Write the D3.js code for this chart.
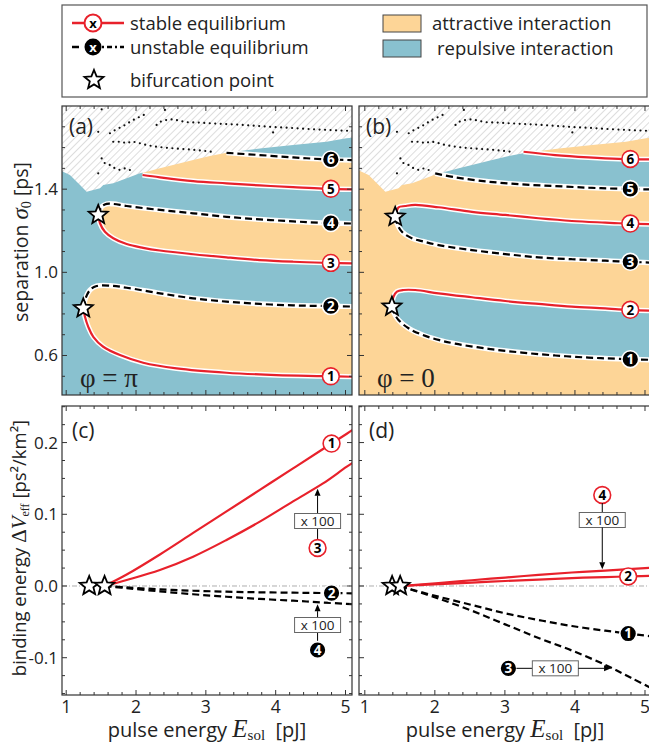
<!DOCTYPE html>
<html><head><meta charset="utf-8">
<script src="https://cdn.jsdelivr.net/npm/d3@7"></script>
<style>body{margin:0;background:#fff;} svg{display:block;}</style>
</head><body><svg id="c" width="649" height="746"></svg>
<script>
// ---------------- DATA ----------------
const xTickLabels = [1, 2, 3, 4, 5];
const sepTickLabels = [0.6, 1.0, 1.4];
const bindTickLabels = [-0.1, 0.0, 0.1, 0.2];

// limit of the simulation domain (hatched area above) - separation vs energy
const limitBoundary = [[0.85,1.50],[1.054,1.468],[1.198,1.420],[1.293,1.388],[1.388,1.396],[1.484,1.404],[1.531,1.420],[1.674,1.428],[1.866,1.452],[2.056,1.476],[2.152,1.484],[2.342,1.500],[2.818,1.540],[3.057,1.559],[3.296,1.575],[3.773,1.596],[4.249,1.612],[4.727,1.628],[5.013,1.645],[5.2,1.650]];
// dotted traces inside hatched area
const dotsA = [[1.627,1.669],[1.698,1.684],[1.794,1.700],[1.866,1.713],[1.937,1.729],[2.009,1.741],[2.080,1.752],[2.160,1.765]];
const dotsB = [[2.295,1.709],[2.342,1.724],[2.438,1.733],[2.532,1.736],[2.628,1.729],[2.724,1.722],[2.914,1.720],[3.057,1.717],[3.296,1.713],[3.534,1.709],[3.773,1.703],[4.012,1.698],[4.249,1.694],[4.488,1.689],[4.727,1.685],[5.013,1.681],[5.2,1.679]];
const dotsC = [[1.674,1.628],[1.794,1.628],[1.866,1.620],[1.937,1.630],[2.032,1.623],[2.152,1.612],[2.295,1.604],[2.438,1.599],[2.581,1.595],[2.724,1.592],[2.867,1.588],[3.010,1.583],[3.082,1.580]];
const dotsD = [[1.508,1.548],[1.555,1.524],[1.627,1.516],[1.698,1.500],[1.770,1.492],[1.841,1.500],[1.913,1.492],[1.984,1.486]];
const dotsSingle = [[1.508,1.784],[1.459,1.676],[2.414,1.781],[3.963,1.673],[1.459,1.476]];

// panel (a), phi = pi : separation [ps] vs energy [pJ]
const a1 = [[1.245,0.827],[1.269,0.786],[1.316,0.738],[1.388,0.690],[1.531,0.642],[1.770,0.602],[2.103,0.565],[2.581,0.538],[3.296,0.517],[4.012,0.506],[4.678,0.501],[5.2,0.497]];
const a2 = [[1.245,0.827],[1.269,0.867],[1.341,0.915],[1.436,0.934],[1.627,0.936],[1.866,0.926],[2.342,0.899],[2.818,0.875],[3.296,0.859],[3.773,0.848],[4.249,0.841],[4.678,0.838],[5.2,0.835]];
const a3 = [[1.459,1.276],[1.484,1.236],[1.555,1.195],[1.674,1.164],[1.866,1.136],[2.103,1.118],[2.342,1.105],[2.818,1.087],[3.296,1.072],[3.773,1.059],[4.249,1.051],[4.678,1.046],[5.2,1.043]];
const a4 = [[1.459,1.276],[1.508,1.316],[1.579,1.329],[1.674,1.329],[1.866,1.319],[2.342,1.300],[2.818,1.284],[3.296,1.267],[3.773,1.255],[4.249,1.245],[4.678,1.238],[5.2,1.234]];
const a5 = [[2.094,1.468],[2.342,1.457],[2.818,1.439],[3.296,1.428],[3.773,1.418],[4.249,1.410],[4.678,1.403],[5.2,1.398]];
const a6 = [[3.296,1.575],[3.773,1.564],[4.249,1.553],[4.678,1.544],[5.2,1.539]];

// panel (b), phi = 0
const b1 = [[1.387,0.835],[1.410,0.810],[1.481,0.771],[1.624,0.731],[1.815,0.700],[2.052,0.675],[2.290,0.657],[2.766,0.632],[3.243,0.614],[3.718,0.600],[4.193,0.590],[4.622,0.584],[5.2,0.578]];
const b2 = [[1.387,0.835],[1.410,0.883],[1.458,0.907],[1.552,0.915],[1.719,0.915],[2.052,0.899],[2.529,0.880],[3.004,0.862],[3.480,0.848],[3.956,0.835],[4.432,0.827],[4.622,0.822],[5.2,0.814]];
const b3 = [[1.434,1.267],[1.460,1.235],[1.530,1.195],[1.672,1.164],[1.815,1.150],[2.052,1.131],[2.529,1.107],[3.004,1.088],[3.480,1.072],[3.956,1.063],[4.432,1.056],[4.622,1.053],[5.2,1.045]];
const b4 = [[1.434,1.267],[1.462,1.300],[1.481,1.313],[1.577,1.319],[1.719,1.324],[2.052,1.313],[2.529,1.291],[3.004,1.276],[3.480,1.260],[3.956,1.247],[4.432,1.239],[4.622,1.236],[5.2,1.231]];
const b5 = [[2.005,1.476],[2.290,1.457],[2.766,1.436],[3.243,1.423],[3.718,1.415],[4.193,1.407],[4.622,1.402],[5.2,1.398]];
const b6 = [[3.266,1.580],[3.718,1.564],[4.193,1.553],[4.622,1.546],[5.2,1.543]];

// panel (c), phi = pi : binding energy [ps^2/km^2]  (curves 3,4 shown x100)
const cStars = [1.33, 1.55];
const c1 = [[1.55,0],[1.866,0.016],[2.342,0.044],[2.818,0.074],[3.296,0.104],[3.773,0.134],[4.249,0.164],[4.678,0.191],[5.013,0.212],[5.2,0.224]];
const c2 = [[1.55,0],[1.866,-0.0020],[2.342,-0.0046],[2.818,-0.0066],[3.296,-0.0079],[3.773,-0.0088],[4.249,-0.0093],[4.678,-0.0098],[5.2,-0.0103]];
const c3x100 = [[1.55,0],[1.866,0.0084],[2.342,0.0223],[2.818,0.0409],[3.296,0.0642],[3.773,0.0897],[4.249,0.118],[4.678,0.143],[5.013,0.166],[5.2,0.178]];
const c4x100 = [[1.55,0],[1.866,-0.003],[2.342,-0.0075],[2.818,-0.0115],[3.296,-0.015],[3.773,-0.018],[4.249,-0.0205],[4.678,-0.023],[5.2,-0.026]];

// panel (d), phi = 0
const dStars = [1.39, 1.505];
const d1 = [[1.505,0],[1.577,-0.0024],[2.052,-0.0149],[2.529,-0.0265],[3.004,-0.0381],[3.480,-0.0474],[3.956,-0.0558],[4.432,-0.0623],[4.622,-0.0646],[5.2,-0.0715]];
const d2 = [[1.505,0],[2.052,0.0025],[2.529,0.0048],[3.004,0.0070],[3.480,0.0090],[3.956,0.0110],[4.432,0.0125],[4.76,0.0133],[5.2,0.0145]];
const d3x100 = [[1.505,0],[1.577,-0.0024],[2.052,-0.0175],[2.529,-0.0345],[3.004,-0.0535],[3.480,-0.0725],[3.956,-0.0900],[4.432,-0.110],[4.8,-0.128],[5.2,-0.148]];
const d4x100 = [[1.505,0],[2.052,0.0040],[2.529,0.0080],[3.004,0.0118],[3.480,0.0155],[3.956,0.0188],[4.432,0.0215],[5.2,0.026]];

// ---------------- STYLE / SCALES ----------------
const ORANGE = '#FDD597', BLUE = '#89C1CF', RED = '#E8212B', INK = '#222';
const SANS = "'Open Sans','Noto Sans',sans-serif";
const SERIF = "'Liberation Serif','DejaVu Serif',serif";
const svg = d3.select('#c');

const xL = d3.scaleLinear().domain([0.94, 5.093]).range([62, 352]);
const xR = d3.scaleLinear().domain([0.917, 5.1]).range([359, 652]);
const ySep = d3.scaleLinear().domain([0.41, 1.80]).range([395, 106]);
const yBind = d3.scaleLinear().domain([-0.152, 0.251]).range([695, 406]);

const defs = svg.append('defs');
const pat = defs.append('pattern').attr('id','hatch').attr('patternUnits','userSpaceOnUse')
  .attr('width',5).attr('height',5).attr('patternTransform','rotate(45)');
pat.append('rect').attr('width',5).attr('height',5).attr('fill','#fff');
pat.append('line').attr('x1',0).attr('y1',0).attr('x2',0).attr('y2',5).attr('stroke','#b3b3b3').attr('stroke-width',0.9);

function clip(id, x, y){
  defs.append('clipPath').attr('id',id).append('rect')
    .attr('x',x.range()[0]).attr('y',y.range()[1]).attr('width',x.range()[1]-x.range()[0]).attr('height',y.range()[0]-y.range()[1]);
}
clip('ca', xL, ySep); clip('cb', xR, ySep); clip('cc', xL, yBind); clip('cd', xR, yBind);

function lineGen(x, y, smooth){
  return d3.line().x(d=>x(d[0])).y(d=>y(d[1])).curve(smooth ? d3.curveCatmullRom.alpha(0.5) : d3.curveLinear);
}
function interp(pts, xv){
  for (let i=1;i<pts.length;i++){ if (pts[i][0]>=xv){ const [x0,y0]=pts[i-1],[x1,y1]=pts[i]; return y0+(y1-y0)*(xv-x0)/(x1-x0);} }
  return pts[pts.length-1][1];
}
function starPath(r1, r2){
  let p=''; for(let i=0;i<10;i++){ const r=i%2?r2:r1; const a=-Math.PI/2+i*Math.PI/5; p+=(i?'L':'M')+(r*Math.cos(a)).toFixed(2)+','+(r*Math.sin(a)).toFixed(2);} return p+'Z';
}
function drawStar(g, X, Y){
  g.append('path').attr('d',starPath(10,4.4)).attr('transform',`translate(${X},${Y})`)
    .attr('fill','#fff').attr('stroke','#000').attr('stroke-width',1.8).attr('stroke-linejoin','miter');
}
function drawLabel(g, X, Y, n, stable){
  g.append('circle').attr('cx',X).attr('cy',Y).attr('r',8.4)
    .attr('fill',stable?'#fff':'#000').attr('stroke',stable?RED:'#fff').attr('stroke-width',1.6);
  g.append('text').attr('x',X).attr('y',Y+4.8).attr('text-anchor','middle').attr('font-family',SANS)
    .attr('font-weight','bold').attr('font-size',13.5).attr('fill',stable?'#000':'#fff').text(n);
}
function drawCurve(g, x, y, pts, stable, halo){
  const ln = lineGen(x, y, true);
  if (halo) g.append('path').attr('d',ln(pts)).attr('fill','none').attr('stroke','#fff').attr('stroke-width',5.2);
  g.append('path').attr('d',ln(pts)).attr('fill','none').attr('stroke',stable?RED:'#000')
    .attr('stroke-width',2.2).attr('stroke-dasharray',stable?null:'7,4');
}
function fillBetween(g, x, y, p, q, color){
  const ln = lineGen(x, y, true);
  const d = ln(p) + ln(q.slice().reverse()).replace(/^M/,'L') + 'Z';
  g.append('path').attr('d',d).attr('fill',color);
}
function fillBand(g, x, y, lower, upper, color){
  const ln = lineGen(x, y, true);
  const u0 = upper[0][0], l0 = lower[0][0];
  const d = ln(lower) + ln(upper.slice().reverse()).replace(/^M/,'L')
    + `L${x(u0)},${y(1.79)}L${x(l0)},${y(1.79)}Z`;
  g.append('path').attr('d',d).attr('fill',color);
}
function drawTicks(g, x, y, xMinor, xMajor, yMinor, yMajor, mirrorRight){
  const [l,r] = x.range(), [b,t] = y.range();
  const seg=[];
  xMinor.forEach(v=>{const X=x(v); seg.push([X,b,X,b-3],[X,t,X,t+3]);});
  xMajor.forEach(v=>{const X=x(v); seg.push([X,b,X,b-5],[X,t,X,t+5]);});
  yMinor.forEach(v=>{const Y=y(v); seg.push([l,Y,l+3,Y]); if(mirrorRight) seg.push([r,Y,r-3,Y]);});
  yMajor.forEach(v=>{const Y=y(v); seg.push([l,Y,l+5,Y]); if(mirrorRight) seg.push([r,Y,r-5,Y]);});
  g.selectAll(null).data(seg).join('line')
    .attr('x1',d=>d[0]).attr('y1',d=>d[1]).attr('x2',d=>d[2]).attr('y2',d=>d[3])
    .attr('stroke','#333').attr('stroke-width',1);
  g.append('rect').attr('x',l).attr('y',t).attr('width',r-l).attr('height',b-t)
    .attr('fill','none').attr('stroke','#333').attr('stroke-width',1.2);
}
const xMinorVals = d3.range(1.2, 5.0, 0.2).filter(v=>Math.abs(v-Math.round(v))>0.05);
const sepMinor = d3.range(0.5, 1.75, 0.1).filter(v=>!sepTickLabels.some(s=>Math.abs(s-v)<0.01));
const bindMinor = d3.range(-0.15, 0.251, 0.025).filter(v=>!bindTickLabels.some(s=>Math.abs(s-v)<0.001));

function drawDots(g, x, y){
  const ln = lineGen(x, y, false);
  [dotsA, dotsB, dotsC, dotsD].forEach(arr=>{
    g.append('path').attr('d',ln(arr)).attr('fill','none').attr('stroke','#111')
      .attr('stroke-width',2.2).attr('stroke-linecap','round').attr('stroke-dasharray','0 5.5');
  });
  g.selectAll(null).data(dotsSingle).join('circle').attr('cx',d=>x(d[0])).attr('cy',d=>y(d[1])).attr('r',1.1).attr('fill','#111');
}
function hatchRegion(g, x, y){
  const ln = lineGen(x, y, false);
  const d = ln(limitBoundary) + `L${x(5.3)},${y(1.95)}L${x(0.8)},${y(1.95)}Z`;
  g.append('path').attr('d',d).attr('fill','url(#hatch)');
}

// ---------------- TOP PANELS ----------------
function topPanel(x, clipId, bg, fg, curves, letter, phiText){
  const g = svg.append('g').attr('clip-path',`url(#${clipId})`);
  g.append('rect').attr('x',x.range()[0]).attr('y',ySep.range()[1]).attr('width',x.range()[1]-x.range()[0]).attr('height',ySep.range()[0]-ySep.range()[1]).attr('fill',bg);
  const [k1,k2,k3,k4,k5,k6] = curves.map(c=>c.pts);
  fillBetween(g, x, ySep, k1, k2, fg);
  fillBetween(g, x, ySep, k3, k4, fg);
  fillBand(g, x, ySep, k5, k6, fg);
  hatchRegion(g, x, ySep);
  drawDots(g, x, ySep);
  curves.forEach(c=>drawCurve(g, x, ySep, c.pts, c.stable, true));
  curves.forEach((c,i)=>drawLabel(g, x(4.79), ySep(interp(c.pts,4.79)), i+1, c.stable));
  drawStar(g, x(k1[0][0]), ySep(k1[0][1]));
  drawStar(g, x(k3[0][0]), ySep(k3[0][1]));
  svg.append('text').attr('x',x.range()[0]+7).attr('y',134).attr('font-family',SANS).attr('font-size',21).attr('fill',INK).text(letter);
  svg.append('text').attr('x',x.range()[0]+18).attr('y',387).attr('font-family',SERIF).attr('font-size',27).attr('fill',INK).text(phiText);
  drawTicks(svg.append('g'), x, ySep, xMinorVals, xTickLabels, sepMinor, sepTickLabels, clipId==='ca');
}
topPanel(xL, 'ca', BLUE, ORANGE, [
  {pts:a1, stable:true},{pts:a2, stable:false},{pts:a3, stable:true},
  {pts:a4, stable:false},{pts:a5, stable:true},{pts:a6, stable:false}], '(a)', 'φ = π');
topPanel(xR, 'cb', ORANGE, BLUE, [
  {pts:b1, stable:false},{pts:b2, stable:true},{pts:b3, stable:false},
  {pts:b4, stable:true},{pts:b5, stable:false},{pts:b6, stable:true}], '(b)', 'φ = 0');

// ---------------- BOTTOM PANELS ----------------
function arrow(g, X1, Y1, X2, Y2){
  const ang = Math.atan2(Y2-Y1, X2-X1), L=7, w=3;
  const bx = X2 - L*Math.cos(ang), by = Y2 - L*Math.sin(ang);
  g.append('line').attr('x1',X1).attr('y1',Y1).attr('x2',bx).attr('y2',by).attr('stroke','#000').attr('stroke-width',1);
  g.append('path').attr('d',`M${X2},${Y2}L${bx - w*Math.sin(ang)},${by + w*Math.cos(ang)}L${bx + w*Math.sin(ang)},${by - w*Math.cos(ang)}Z`).attr('fill','#000');
}
function box100(g, cx, cy){
  g.append('rect').attr('x',cx-23).attr('y',cy-7.5).attr('width',46).attr('height',15).attr('fill','#fff').attr('stroke','#666').attr('stroke-width',1);
  g.append('text').attr('x',cx).attr('y',cy+4.8).attr('text-anchor','middle').attr('font-family',SANS).attr('font-size',13.5).attr('fill',INK).text('x 100');
}
function bottomPanel(x, clipId, letter){
  const g = svg.append('g').attr('clip-path',`url(#${clipId})`);
  g.append('line').attr('x1',x.range()[0]).attr('x2',x.range()[1]).attr('y1',yBind(0)).attr('y2',yBind(0))
    .attr('stroke','#999').attr('stroke-width',0.8).attr('stroke-dasharray','5,2,1,2');
  svg.append('text').attr('x',x.range()[0]+10).attr('y',438).attr('font-family',SANS).attr('font-size',21).attr('fill',INK).text(letter);
  drawTicks(svg.append('g'), x, yBind, xMinorVals, xTickLabels, bindMinor, bindTickLabels, clipId==='cc');
  return g;
}
// (c)
{
  const g = bottomPanel(xL, 'cc', '(c)');
  [[c1,true],[c3x100,true],[c2,false],[c4x100,false]].forEach(([p,s])=>drawCurve(g, xL, yBind, p, s, false));
  cStars.forEach(v=>drawStar(g, xL(v), yBind(0)));
  drawLabel(g, xL(4.8), yBind(interp(c1,4.8)), 1, true);
  drawLabel(g, xL(4.8), yBind(interp(c2,4.8)), 2, false);
  const ax = xL(4.6);
  arrow(g, ax, 514, ax, yBind(interp(c3x100,4.6))+2);
  g.append('line').attr('x1',ax).attr('x2',ax).attr('y1',529).attr('y2',540).attr('stroke','#000');
  box100(g, ax, 521);
  drawLabel(g, ax, 548, 3, true);
  arrow(g, ax, 618, ax, yBind(interp(c4x100,4.6))+2);
  g.append('line').attr('x1',ax).attr('x2',ax).attr('y1',632).attr('y2',642).attr('stroke','#000');
  box100(g, ax, 625);
  drawLabel(g, ax, 650, 4, false);
}
// (d)
{
  const g = bottomPanel(xR, 'cd', '(d)');
  [[d2,true],[d4x100,true],[d1,false],[d3x100,false]].forEach(([p,s])=>drawCurve(g, xR, yBind, p, s, false));
  dStars.forEach(v=>drawStar(g, xR(v), yBind(0)));
  drawLabel(g, xR(4.76), yBind(interp(d2,4.76)), 2, true);
  drawLabel(g, xR(4.76), yBind(interp(d1,4.76)), 1, false);
  const ax = xR(4.39);
  drawLabel(g, ax, 495, 4, true);
  g.append('line').attr('x1',ax).attr('x2',ax).attr('y1',503).attr('y2',513).attr('stroke','#000');
  box100(g, ax, 520);
  arrow(g, ax, 527.5, ax, yBind(interp(d4x100,4.39))-1.5);
  const ay = yBind(interp(d3x100,4.53));
  drawLabel(g, xR(3.05), ay, 3, false);
  g.append('line').attr('x1',xR(3.05)+8).attr('x2',xR(3.72)-23).attr('y1',ay).attr('y2',ay).attr('stroke','#000');
  box100(g, xR(3.72), ay);
  arrow(g, xR(3.72)+23, ay, xR(4.53)-1, ay);
}

// ---------------- AXIS LABELS ----------------
const fmt = v => (v < 0 ? '-' : '') + Math.abs(v).toFixed(1);
svg.append('g').selectAll(null).data(sepTickLabels).join('text')
  .attr('x',58).attr('y',d=>ySep(d)+6).attr('text-anchor','end').attr('font-family',SANS).attr('font-size',17).attr('fill',INK)
  .text(fmt);
svg.append('g').selectAll(null).data(bindTickLabels).join('text')
  .attr('x',58).attr('y',d=>yBind(d)+6).attr('text-anchor','end').attr('font-family',SANS).attr('font-size',17).attr('fill',INK)
  .text(fmt);
[xL, xR].forEach(x=>{
  svg.append('g').selectAll(null).data(xTickLabels).join('text')
    .attr('x',d=>x(d)).attr('y',713).attr('text-anchor','middle').attr('font-family',SANS).attr('font-size',17.5).attr('fill',INK).text(d=>d);
});
function xTitle(cx){
  const t = svg.append('text').attr('x',cx).attr('y',737).attr('text-anchor','middle').attr('font-family',SANS).attr('font-size',20).attr('fill',INK);
  t.append('tspan').text('pulse energy ');
  t.append('tspan').attr('font-family',SERIF).attr('font-style','italic').attr('font-size',25).text('E');
  t.append('tspan').attr('font-family',SERIF).attr('font-size',15).attr('dy',3).text('sol');
  t.append('tspan').attr('dy',-3).text('\u00a0\u00a0[pJ]');
}
xTitle(207); xTitle(505);
{
  const t = svg.append('text').attr('transform','translate(28,242) rotate(-90)').attr('text-anchor','middle').attr('font-family',SANS).attr('font-size',19.5).attr('fill',INK);
  t.append('tspan').text('separation ');
  t.append('tspan').attr('font-family',SERIF).attr('font-style','italic').attr('font-size',23).text('σ');
  t.append('tspan').attr('font-family',SERIF).attr('font-size',14).attr('dy',3).text('0');
  t.append('tspan').attr('dy',-3).text(' [ps]');
}
{
  const t = svg.append('text').attr('transform','translate(26,548) rotate(-90)').attr('text-anchor','middle').attr('font-family',SANS).attr('font-size',18.5).attr('fill',INK);
  t.append('tspan').text('binding energy ');
  t.append('tspan').attr('font-family',SERIF).attr('font-size',21).text('Δ');
  t.append('tspan').attr('font-family',SERIF).attr('font-style','italic').attr('font-size',21).text('V');
  t.append('tspan').attr('font-family',SERIF).attr('font-size',12).attr('dy',3).text('eff');
  t.append('tspan').attr('dy',-3).text(' [ps²/km²]');
}

// ---------------- LEGEND ----------------
{
  const g = svg.append('g');
  g.append('rect').attr('x',62).attr('y',5).attr('width',585).attr('height',92).attr('fill','#fff').attr('stroke','#555').attr('stroke-width',1.2);
  g.append('line').attr('x1',72).attr('x2',124).attr('y1',23).attr('y2',23).attr('stroke',RED).attr('stroke-width',2.5);
  g.append('circle').attr('cx',93).attr('cy',23).attr('r',8.5).attr('fill','#fff').attr('stroke',RED).attr('stroke-width',2);
  g.append('text').attr('x',93).attr('y',27.5).attr('text-anchor','middle').attr('font-family',SANS).attr('font-weight','bold').attr('font-size',13).text('x');
  g.append('line').attr('x1',72).attr('x2',79).attr('y1',47).attr('y2',47).attr('stroke','#000').attr('stroke-width',2.5);
  g.append('line').attr('x1',102).attr('x2',124).attr('y1',47).attr('y2',47).attr('stroke','#000').attr('stroke-width',2.5).attr('stroke-dasharray','2,3,5,3');
  g.append('circle').attr('cx',93).attr('cy',47).attr('r',8.5).attr('fill','#000');
  g.append('text').attr('x',93).attr('y',51.5).attr('text-anchor','middle').attr('font-family',SANS).attr('font-weight','bold').attr('font-size',13).attr('fill','#fff').text('x');
  drawStar(g, 94, 80);
  const txt = (x,y,s)=>g.append('text').attr('x',x).attr('y',y).attr('font-family',SANS).attr('font-size',18.5).attr('fill',INK).text(s);
  txt(130,30,'stable equilibrium');
  txt(130,54,'unstable equilibrium');
  txt(130,87,'bifurcation point');
  g.append('rect').attr('x',383).attr('y',15).attr('width',38).attr('height',17).attr('fill',ORANGE).attr('stroke','#444');
  g.append('rect').attr('x',383).attr('y',40).attr('width',38).attr('height',17).attr('fill',BLUE).attr('stroke','#444');
  txt(432,30,'attractive interaction');
  txt(437,55,'repulsive interaction');
}
</script></body></html>
